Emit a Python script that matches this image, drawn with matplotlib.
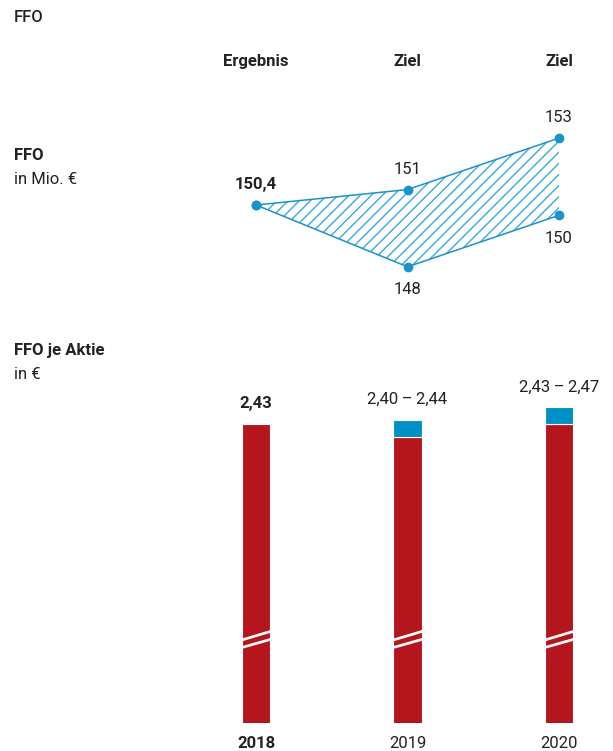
import matplotlib.pyplot as plt
from matplotlib.patches import Polygon
import matplotlib.transforms as mtransforms

plt.rcParams['font.family'] = ['Roboto', 'DejaVu Sans']
plt.rcParams['hatch.linewidth'] = 1.0

W, H = 613, 751

years = ['2018', '2019', '2020']
headers = ['Ergebnis', 'Ziel', 'Ziel']
ffo_upper = [150.4, 151, 153]
ffo_lower = [150.4, 148, 150]
ffo_upper_labels = ['150,4', '151', '153']
ffo_lower_labels = ['', '148', '150']
eps_low = [2.43, 2.40, 2.43]
eps_high = [2.43, 2.44, 2.47]
eps_labels = ['2,43', '2,40\u2009–\u20092,44', '2,43\u2009–\u20092,47']

red = '#b5161e'
blue_bar = '#0090c6'
blue_line = '#1a93cb'
blue_hatch = '#3aaade'
txt = '#222222'


def px_box(left, top, right, bottom):
    return [left / W, 1 - bottom / H, (right - left) / W, (bottom - top) / H]


fig = plt.figure(figsize=(W / 100, H / 100), dpi=100)

x = list(range(len(years)))
xlim = (-0.5, 2.3)
left_px = 256 - 0.5 * 151.5
right_px = 256 + 2.3 * 151.5

# FFO range chart
ax1 = fig.add_axes(px_box(left_px, 100, right_px, 300))
ax1.set_xlim(*xlim)
ax1.set_ylim(146.71, 154.48)
ax1.axis('off')

ax1.fill_between(x, ffo_upper, ffo_lower, facecolor='none', edgecolor=blue_hatch,
                 hatch='///', linewidth=0)
ax1.plot(x, ffo_upper, color=blue_line, lw=1.1, marker='o', ms=6, zorder=3)
ax1.plot(x, ffo_lower, color=blue_line, lw=1.1, marker='o', ms=6, zorder=3)

for i, lab in enumerate(ffo_upper_labels):
    ax1.annotate(lab, (x[i], ffo_upper[i]), xytext=(0, 14.5), textcoords='offset points',
                 ha='center', va='center', fontsize=12, color=txt,
                 fontweight='bold' if i == 0 else 'normal')
for i, lab in enumerate(ffo_lower_labels):
    if lab:
        ax1.annotate(lab, (x[i], ffo_lower[i]), xytext=(0, -16.5), textcoords='offset points',
                     ha='center', va='center', fontsize=12, color=txt)

for i, h in enumerate(headers):
    ax1.annotate(h, (x[i], 1), xycoords=('data', 'axes fraction'), xytext=(0, 28),
                 textcoords='offset points', ha='center', va='center',
                 fontsize=12, fontweight='bold', color=txt)

# FFO per share bars (truncated axis)
ax2 = fig.add_axes(px_box(left_px, 380, right_px, 723))
ax2.set_xlim(*xlim)
ax2.set_ylim(1.7265, 2.5335)
ax2.axis('off')

bw = 0.19
ax2.bar(x, eps_low, width=bw, color=red, edgecolor='white', linewidth=0.8)
rng = [hi - lo for lo, hi in zip(eps_low, eps_high)]
for i in x:
    if rng[i] > 0:
        ax2.bar(x[i], rng[i], bottom=eps_low[i], width=bw, color=blue_bar,
                edgecolor='white', linewidth=0.8)

for i, lab in enumerate(eps_labels):
    ax2.annotate(lab, (x[i], eps_high[i]), xytext=(0, 14.5), textcoords='offset points',
                 ha='center', va='center', fontsize=12, color=txt,
                 fontweight='bold' if i == 0 else 'normal')
    ax2.annotate(years[i], (x[i], 0), xycoords=('data', 'axes fraction'), xytext=(0, -14.5),
                 textcoords='offset points', ha='center', va='center', fontsize=12,
                 color=txt, fontweight='bold' if i == 0 else 'normal')

# break marks across each bar
tr = mtransforms.blended_transform_factory(ax2.transData, ax2.transAxes)
ah = 723 - 380
t = 1.4 / ah
for i in x:
    x0, x1 = x[i] - bw / 2 - 0.01, x[i] + bw / 2 + 0.01
    for yl, yr in [(82.5, 92), (75, 84)]:
        yl, yr = yl / ah, yr / ah
        ax2.add_patch(Polygon([(x0, yl - t), (x1, yr - t), (x1, yr + t), (x0, yl + t)],
                              closed=True, facecolor='white', edgecolor='none',
                              transform=tr, zorder=4))

# left-hand captions
def ftext(xp, yp, s, **kw):
    fig.text(xp / W, 1 - yp / H, s, va='center', ha='left', fontsize=12, color=txt, **kw)


ftext(14, 18, 'FFO', fontweight='medium')
ftext(14, 155, 'FFO', fontweight='bold')
ftext(14, 180, 'in Mio. €')
ftext(14, 350, 'FFO je Aktie', fontweight='bold')
ftext(14, 375, 'in €')

fig.savefig('out.png', dpi=100)
